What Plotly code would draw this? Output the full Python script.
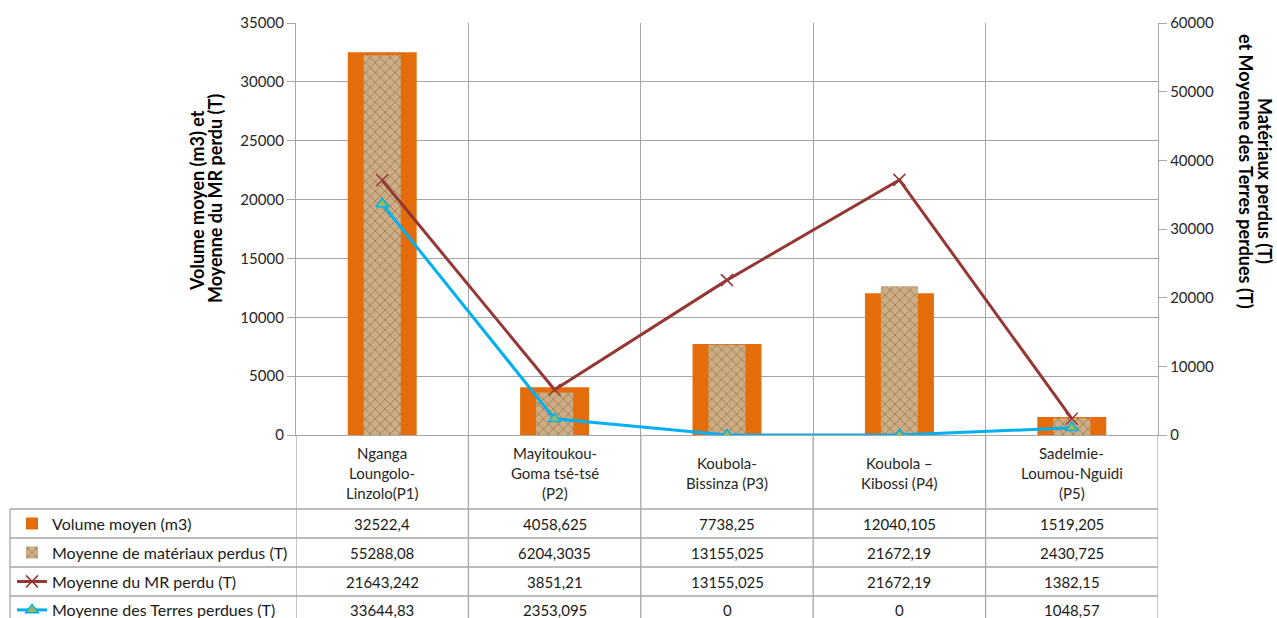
import plotly.graph_objects as go

# ---------------- data ----------------
categories = [
    "Nganga\nLoungolo-\nLinzolo(P1)",
    "Mayitoukou-\nGoma tsé-tsé\n(P2)",
    "Koubola-\nBissinza (P3)",
    "Koubola –\nKibossi (P4)",
    "Sadelmie-\nLoumou-Nguidi\n(P5)",
]
volume_moyen = [32522.4, 4058.625, 7738.25, 12040.105, 1519.205]
materiaux_perdus = [55288.08, 6204.3035, 13155.025, 21672.19, 2430.725]
mr_perdu = [21643.242, 3851.21, 13155.025, 21672.19, 1382.15]
terres_perdues = [33644.83, 2353.095, 0, 0, 1048.57]

series_names = [
    "Volume moyen (m3)",
    "Moyenne de matériaux perdus (T)",
    "Moyenne du MR perdu (T)",
    "Moyenne des Terres perdues (T)",
]
left_title = ["Volume moyen (m3) et", "Moyenne du MR perdu (T)"]
right_title = ["Matériaux perdus (T)", "et Moyenne des Terres perdues (T)"]
left_ticks = [0, 5000, 10000, 15000, 20000, 25000, 30000, 35000]
right_ticks = [0, 10000, 20000, 30000, 40000, 50000, 60000]

# ---------------- layout geometry ----------------
W, H = 1277, 618
PL, PR, PT, PB = 296, 1158, 23, 435
GRID = "#A6A6A6"
FONT = "Lato, Liberation Sans, Arial"
NARROW = "Liberation Sans Narrow, Lato, Arial"


def px_x(px):
    return (px - PL) / (PR - PL)


def px_y(py):
    return (PB - py) / (PB - PT)


def fr(v):
    return format(v, ".10g").replace(".", ",")


x_idx = list(range(len(categories)))

fig = go.Figure()

fig.add_trace(go.Bar(
    x=x_idx, y=volume_moyen, name=series_names[0], width=0.40,
    marker=dict(color="#E46C0A", line=dict(width=0)),
    yaxis="y", legend="legend",
))
fig.add_trace(go.Bar(
    x=x_idx, y=materiaux_perdus, name=series_names[1], width=0.215,
    marker=dict(
        color="#C9A97E", line=dict(width=0),
        pattern=dict(shape="x", fillmode="replace", bgcolor="#CDAE84",
                     fgcolor="#8C6B45", size=7, solidity=0.18),
    ),
    yaxis="y2", legend="legend2",
))
fig.add_trace(go.Scatter(
    x=x_idx, y=terres_perdues, name=series_names[3], mode="lines+markers",
    line=dict(color="#00B0F0", width=3),
    marker=dict(symbol="triangle-up", size=11, color="#9BBB59",
                line=dict(color="#00B0F0", width=1.5)),
    yaxis="y2", legend="legend4",
))
fig.add_trace(go.Scatter(
    x=x_idx, y=mr_perdu, name=series_names[2], mode="lines+markers",
    line=dict(color="#953735", width=3),
    marker=dict(symbol="x-thin", size=12, color="#953735",
                line=dict(color="#953735", width=1.5)),
    yaxis="y3", legend="legend3",
))

shapes = []
annotations = []

table_bottom = 640
row_lines = [509, 538, 567, 596]
row_centers = [523.5, 552.5, 581.5, 610]

# vertical boundary lines through category row and table
for b in range(len(categories) + 1):
    shapes.append(dict(type="line", xref="x", yref="paper",
                       x0=b - 0.5, x1=b - 0.5, y0=px_y(PB), y1=px_y(table_bottom),
                       line=dict(color=GRID, width=1.3)))
# table left border
shapes.append(dict(type="line", xref="paper", yref="paper",
                   x0=px_x(10), x1=px_x(10), y0=px_y(509), y1=px_y(table_bottom),
                   line=dict(color=GRID, width=1.3)))
# horizontal table lines
for ry in row_lines:
    shapes.append(dict(type="line", xref="paper", yref="paper",
                       x0=px_x(10), x1=px_x(PR), y0=px_y(ry), y1=px_y(ry),
                       line=dict(color=GRID, width=1.3)))

# category labels (one annotation per line)
for i, lab in enumerate(categories):
    lines = lab.split("\n")
    n = len(lines)
    for k, t in enumerate(lines):
        cy = 473 + (k - (n - 1) / 2) * 20
        annotations.append(dict(x=i, y=px_y(cy), xref="x", yref="paper",
                                text=t, showarrow=False, xanchor="center",
                                yanchor="middle",
                                font=dict(family=NARROW, size=15, color="#262626")))

# table values
for r, vals in enumerate([volume_moyen, materiaux_perdus, mr_perdu, terres_perdues]):
    for i, v in enumerate(vals):
        annotations.append(dict(x=i, y=px_y(row_centers[r]), xref="x", yref="paper",
                                text=fr(v), showarrow=False, xanchor="center",
                                yanchor="middle",
                                font=dict(family=FONT, size=15, color="#1a1a1a")))

# axis titles (one annotation per line)
for t, (cx, cy) in zip(left_title, [(197, 201), (215, 199)]):
    annotations.append(dict(x=px_x(cx), y=px_y(cy), xref="paper", yref="paper",
                            text="<b>" + t + "</b>", textangle=-90, showarrow=False,
                            xanchor="center", yanchor="middle",
                            font=dict(family=FONT, size=18, color="#000000")))
for t, (cx, cy) in zip(right_title, [(1265, 181), (1246, 171)]):
    annotations.append(dict(x=px_x(cx), y=px_y(cy), xref="paper", yref="paper",
                            text="<b>" + t + "</b>", textangle=90, showarrow=False,
                            xanchor="center", yanchor="middle",
                            font=dict(family=FONT, size=18, color="#000000")))

legend_common = dict(xanchor="left", yanchor="middle", bgcolor="rgba(0,0,0,0)",
                     borderwidth=0, font=dict(family=FONT, size=16, color="#1a1a1a"),
                     itemclick=False, itemdoubleclick=False)
legends = {}
for j, key in enumerate(["legend", "legend2", "legend3", "legend4"]):
    legends[key] = dict(x=px_x(12), y=px_y(row_centers[j]), **legend_common)

fig.update_layout(
    width=W, height=H,
    margin=dict(l=PL, r=W - PR, t=PT, b=H - PB, autoexpand=False),
    paper_bgcolor="white", plot_bgcolor="white",
    barmode="overlay",
    showlegend=True,
    font=dict(family=FONT, size=15, color="#262626"),
    xaxis=dict(type="category", range=[-0.5, 4.5], tickson="boundaries",
               showgrid=True, gridcolor=GRID, gridwidth=1.3,
               showticklabels=False, ticks="", showline=True,
               linecolor=GRID, linewidth=1.3, zeroline=False),
    yaxis=dict(range=[0, 35000], tickvals=left_ticks, tickformat="d",
               showgrid=True, gridcolor=GRID, gridwidth=1.3, zeroline=False,
               ticks="outside", ticklen=8, tickcolor=GRID,
               showline=True, linecolor=GRID, linewidth=1.3,
               tickfont=dict(family=FONT, size=15, color="#262626")),
    yaxis2=dict(range=[0, 60000], tickvals=right_ticks, tickformat="d",
                overlaying="y", side="right", showgrid=False, zeroline=False,
                ticks="outside", ticklen=8, tickcolor=GRID,
                showline=True, linecolor=GRID, linewidth=1.3,
                tickfont=dict(family=FONT, size=15, color="#262626")),
    yaxis3=dict(range=[0, 35000], overlaying="y", visible=False,
                showgrid=False, zeroline=False),
    shapes=shapes,
    annotations=annotations,
    **legends,
)

fig.write_html(
    "out.html",
    config={"displayModeBar": False},
    post_script="document.body.style.margin='0px';document.body.style.overflow='hidden';",
)
